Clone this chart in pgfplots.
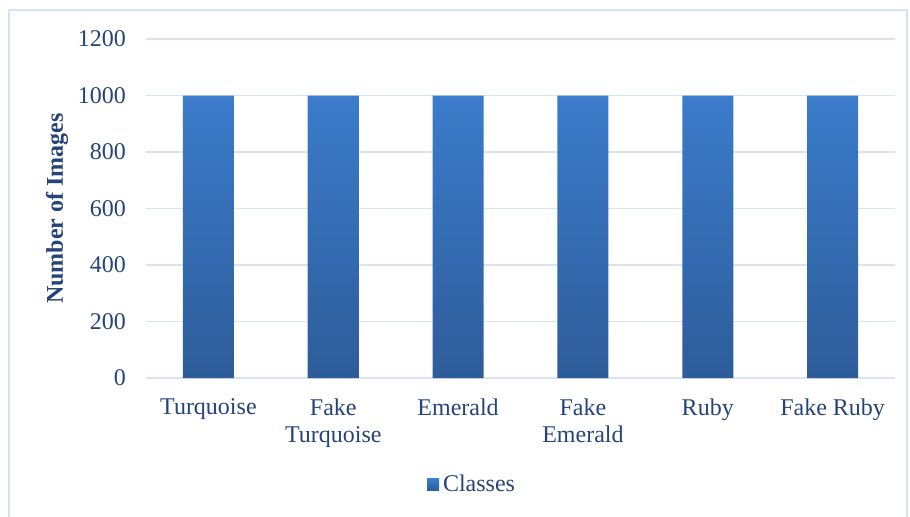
\documentclass[border=0pt]{standalone}
\usepackage{fontspec}
\setmainfont{Liberation Serif}
\usepackage{pgfplots}
\pgfplotsset{compat=1.18}
\definecolor{txt}{HTML}{264478}
\definecolor{gridc}{HTML}{D9E3F1}
\definecolor{framec}{HTML}{D6E3F3}
\definecolor{bartop}{HTML}{3B7CCB}
\definecolor{barbot}{HTML}{2E5C9A}
\begin{document}
\begin{tikzpicture}
\useasboundingbox (0,0) rectangle (455pt,258pt);
\draw[framec, line width=0.8pt] (4.5pt,-5pt) rectangle (453.5pt,253pt);
\begin{axis}[
  at={(73pt,69pt)}, anchor=south west,
  scale only axis,
  width=374.5pt, height=169.5pt,
  xmin=-0.5, xmax=5.5,
  ymin=0, ymax=1200,
  ytick={0,200,...,1200},
  xtick={0,1,2,3,4,5},
  xticklabels={Turquoise,{Fake\\Turquoise},Emerald,{Fake\\Emerald},Ruby,{Fake Ruby}},
  axis line style={draw=none},
  major tick length=0pt,
  ymajorgrids,
  grid style={gridc, line width=0.8pt},
  /pgf/number format/assume math mode=true,
  /pgf/number format/set thousands separator={},
  tick label style={font=\fontsize{12}{13.5}\selectfont, text=txt},
  xticklabel style={align=center, yshift=-7pt},
  yticklabel style={xshift=-6.5pt},
  ylabel={Number of Images},
  ylabel style={at={(axis description cs:0,0.5)}, anchor=center, yshift=44.5pt,
    font=\fontsize{12}{13}\selectfont\bfseries, text=txt},
  ybar, bar width=25.5pt,
  legend style={at={(axis description cs:0.4366,-0.3156)}, anchor=center, draw=none,
    font=\fontsize{12}{13}\selectfont, text=txt, inner sep=0pt},
  legend image code/.code={\shade[top color=bartop, bottom color=barbot] (0pt,-3pt) rectangle (6pt,3pt);},
]
\addplot[draw=none, top color=bartop, bottom color=barbot, bar shift=0pt] coordinates {(0,1000) (1,1000) (2,1000) (3,1000) (4,1000) (5,1000)};
\addlegendentry{Classes}
\end{axis}
\end{tikzpicture}
\end{document}
